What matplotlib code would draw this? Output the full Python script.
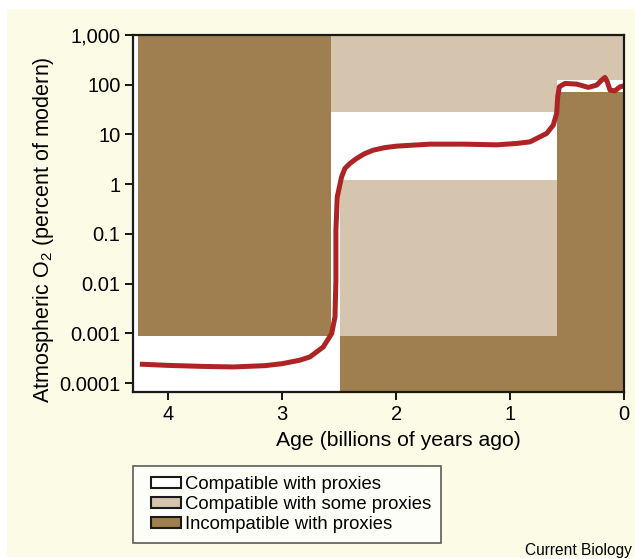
import numpy as np
import matplotlib.pyplot as plt
from matplotlib.patches import Rectangle, Patch
from matplotlib.legend_handler import HandlerPatch
from matplotlib.ticker import FixedLocator, FixedFormatter

plt.rcParams['font.family'] = ['Liberation Sans', 'DejaVu Sans']
plt.rcParams['mathtext.default'] = 'regular'

# O2 curve (age in Gyr ago, log10 of O2 in percent of modern)
age = [4.25, 4.0, 3.7, 3.43, 3.15, 3.0, 2.845, 2.757, 2.64, 2.566, 2.537, 2.529,
       2.529, 2.517, 2.479, 2.45, 2.406, 2.347, 2.28, 2.201, 2.1, 1.996, 1.703,
       1.411, 1.118, 0.942, 0.825, 0.766, 0.679, 0.621, 0.591, 0.582, 0.568,
       0.518, 0.415, 0.313, 0.24, 0.196, 0.167, 0.147, 0.123, 0.079, 0.035, 0.0]
log_o2 = [-3.62, -3.645, -3.665, -3.676, -3.65, -3.61, -3.54, -3.475, -3.274,
          -3.004, -2.67, -1.932, -0.926, -0.256, 0.147, 0.316, 0.416, 0.517,
          0.61, 0.684, 0.735, 0.765, 0.805, 0.805, 0.791, 0.819, 0.851, 0.92,
          1.02, 1.187, 1.423, 1.757, 1.958, 2.026, 2.012, 1.946, 1.992, 2.093,
          2.147, 2.058, 1.891, 1.877, 1.958, 1.978]
o2 = [10 ** v for v in log_o2]

x_lo, x_hi = 4.31, 0.0
y_lo, y_hi = 10 ** -4.18, 1000

# shaded regions: (age_start, age_end, o2_low, o2_high)
some_regions = [(2.57, 0.59, 28, 1000), (0.59, 0.0, 126, 1000), (2.49, 0.59, 0.0009, 1.2)]
incompatible_regions = [(4.27, 2.57, 0.0009, 1000), (2.49, 0.0, y_lo, 0.0009), (0.59, 0.0, y_lo, 70)]

yticks = [0.0001, 0.001, 0.01, 0.1, 1, 10, 100, 1000]
ylabels = ['0.0001', '0.001', '0.01', '0.1', '1', '10', '100', '1,000']
xticks = [4, 3, 2, 1, 0]

bg = '#FCFCE6'
tan = '#D5C4AE'
brown = '#9F7E4F'
red = '#AE2424'

fig = plt.figure(figsize=(6.35, 5.59), dpi=100, facecolor='white')
fig.patches.append(Rectangle((7 / 635, 2 / 559), 1, (559 - 11) / 559, transform=fig.transFigure,
                             facecolor=bg, edgecolor='none', zorder=-10))
ax = fig.add_axes([133 / 635, 1 - 392 / 559, (624 - 133) / 635, (392 - 35) / 559])
ax.set_facecolor('white')
ax.set_yscale('log')
ax.set_xlim(x_lo, x_hi)
ax.set_ylim(y_lo, y_hi)

for x0, x1, y0, y1 in some_regions:
    ax.add_patch(Rectangle((x1, y0), x0 - x1, y1 - y0, facecolor=tan, edgecolor='none', zorder=1))
for x0, x1, y0, y1 in incompatible_regions:
    ax.add_patch(Rectangle((x1, y0), x0 - x1, y1 - y0, facecolor=brown, edgecolor='none', zorder=1))

ax.plot(age, o2, color=red, lw=3.6, solid_joinstyle='round', solid_capstyle='butt', zorder=3)

ax.yaxis.set_major_locator(FixedLocator(yticks))
ax.yaxis.set_major_formatter(FixedFormatter(ylabels))
ax.yaxis.set_minor_locator(FixedLocator([]))
ax.set_xticks(xticks)
ax.set_xticklabels([str(t) for t in xticks])
ax.tick_params(axis='both', direction='out', length=6, width=1.3, labelsize=14.5, pad=3)
for s in ax.spines.values():
    s.set_linewidth(1.6)
    s.set_color('#1a1a1a')
    s.set_zorder(5)

ax.set_xlabel('Age (billions of years ago)', fontsize=15.3)
ax.xaxis.set_label_coords(0.54, -0.109)
ax.set_ylabel('Atmospheric O$_2$ (percent of modern)', fontsize=15.5)
ax.yaxis.set_label_coords(-0.157, 0.454)


def shifted_rect(legend, orig_handle, xdescent, ydescent, width, height, fontsize):
    shift = 6.0
    return Rectangle((-xdescent + shift, -ydescent), width - shift, height)


handles = [Patch(facecolor='white', edgecolor='#1a1a1a', lw=1.5),
           Patch(facecolor=tan, edgecolor='#1a1a1a', lw=1.5),
           Patch(facecolor=brown, edgecolor='#1a1a1a', lw=1.5)]
labels = ['Compatible with proxies', 'Compatible with some proxies', 'Incompatible with proxies']
leg = ax.legend(handles, labels, loc='upper left', bbox_to_anchor=(133 / 635, 1 - 466 / 559),
                bbox_transform=fig.transFigure, fontsize=13.3, frameon=True, fancybox=False,
                borderaxespad=0, borderpad=0.55, labelspacing=0.16, handlelength=2.05,
                handleheight=0.55, handletextpad=0.2,
                handler_map={Patch: HandlerPatch(patch_func=shifted_rect)})
leg.get_frame().set_edgecolor('#333333')
leg.get_frame().set_linewidth(1.2)
leg.get_frame().set_facecolor('white')

fig.text(632 / 635, 1 - 551 / 559, 'Current Biology', ha='right', va='center', fontsize=11.2)

fig.savefig('out.png', dpi=100, facecolor=fig.get_facecolor())
